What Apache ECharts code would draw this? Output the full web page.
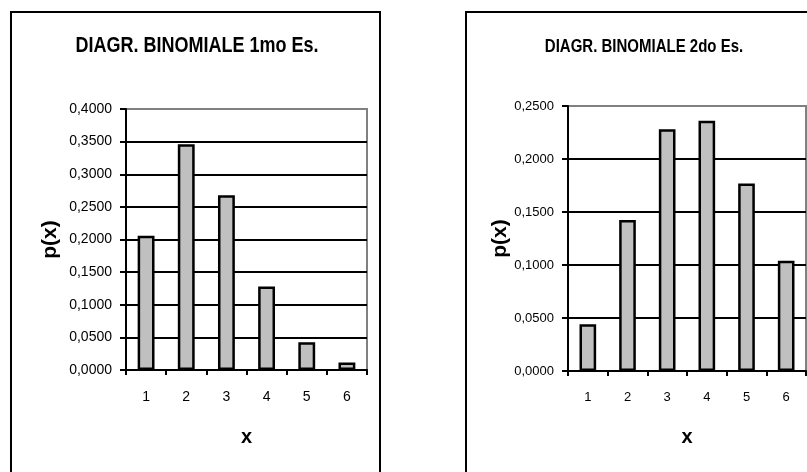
<!DOCTYPE html>
<html><head><meta charset="utf-8">
<script src="https://cdn.jsdelivr.net/npm/echarts@6/dist/echarts.min.js"></script>
<style>html,body{margin:0;padding:0;background:#fff}#c{width:807px;height:472px}</style>
</head><body><div id="c"></div>
<script>
const categories = ['1','2','3','4','5','6'];
const values1 = [0.2059, 0.3460, 0.2680, 0.1280, 0.0425, 0.0115];
const values2 = [0.0440, 0.1425, 0.2280, 0.2360, 0.1770, 0.1040];
const title1 = 'DIAGR. BINOMIALE 1mo Es.';
const title2 = 'DIAGR. BINOMIALE 2do Es.';
const yName = 'p(x)';
const xName = 'x';
const fmt = v => v.toFixed(4).replace('.', ',');

const FONT = '"Liberation Sans", Arial, sans-serif';
const chart = echarts.init(document.getElementById('c'), null, {renderer: 'canvas'});
function yAxis(idx, max, fs, gap) {
  const n = Math.round(max / 0.05);
  const colors = [];
  for (let i = 0; i < n; i++) colors.push('#000');
  colors.push('#808080');
  return {
    type: 'value', gridIndex: idx, min: 0, max: max, interval: 0.05,
    name: yName, nameLocation: 'middle', nameRotate: 90, nameGap: gap,
    nameTextStyle: {fontFamily: FONT, fontWeight: 'bold', fontSize: 21, color: '#000'},
    axisLine: {show: true, lineStyle: {color: '#000', width: 2}},
    axisTick: {show: true, length: 6, lineStyle: {color: '#000', width: 2}},
    axisLabel: {formatter: fmt, fontFamily: FONT, fontSize: fs, color: '#000', margin: 14},
    splitLine: {show: true, lineStyle: {color: colors, width: 2}}
  };
}
function xAxis(idx, fs, gap) {
  return {
    type: 'category', gridIndex: idx, data: categories,
    name: xName, nameLocation: 'middle', nameGap: gap,
    nameTextStyle: {fontFamily: FONT, fontWeight: 'bold', fontSize: 20, color: '#000'},
    axisLine: {show: true, lineStyle: {color: '#000', width: 2}},
    axisTick: {show: true, length: 5, lineStyle: {color: '#000', width: 2}},
    axisLabel: {fontFamily: FONT, fontSize: fs, color: '#000', margin: 20},
    splitLine: {show: false}
  };
}
const barStyle = {color: '#c0c0c0', borderColor: '#000', borderWidth: 2.5};
chart.setOption({
  animation: false,
  backgroundColor: '#fff',
  graphic: [
    {type: 'text', x: 197, y: 46, scaleY: 1.25,
     style: {text: title1, textAlign: 'center', textVerticalAlign: 'middle', fill: '#000',
             font: 'bold 18px "Liberation Sans", Arial, sans-serif'}},
    {type: 'text', x: 644, y: 47, scaleY: 1.25,
     style: {text: title2, textAlign: 'center', textVerticalAlign: 'middle', fill: '#000',
             font: 'bold 15px "Liberation Sans", Arial, sans-serif'}},
    {type: 'rect', shape: {x: 11, y: 12, width: 369, height: 480}, style: {fill: 'none', stroke: '#000', lineWidth: 2}, z: 100},
    {type: 'rect', shape: {x: 466, y: 12, width: 400, height: 480}, style: {fill: 'none', stroke: '#000', lineWidth: 2}, z: 100}
  ],
  grid: [
    {left: 126, top: 109, width: 241, height: 261, show: true, borderColor: '#808080', borderWidth: 2, backgroundColor: 'transparent'},
    {left: 568, top: 106, width: 238, height: 265, show: true, borderColor: '#808080', borderWidth: 2, backgroundColor: 'transparent'}
  ],
  xAxis: [xAxis(0, 14, 57), xAxis(1, 13, 56)],
  yAxis: [yAxis(0, 0.4, 14, 65), yAxis(1, 0.25, 13, 57)],
  series: [
    {type: 'bar', xAxisIndex: 0, yAxisIndex: 0, data: values1, barWidth: '42%', itemStyle: barStyle},
    {type: 'bar', xAxisIndex: 1, yAxisIndex: 1, data: values2, barWidth: '42%', itemStyle: barStyle}
  ]
});
</script></body></html>
